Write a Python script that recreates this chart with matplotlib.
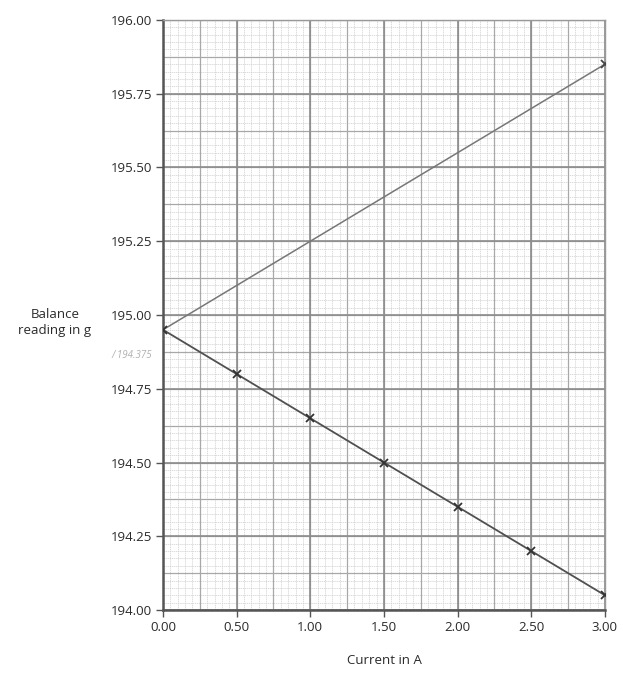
import numpy as np
import matplotlib.pyplot as plt
from matplotlib.ticker import MultipleLocator, FormatStrFormatter

# measured points (current in A, balance reading in g)
current = [0.00, 0.50, 1.00, 1.50, 2.00, 2.50, 3.00]
reading = [194.95, 194.80, 194.65, 194.50, 194.35, 194.20, 194.05]

# reflected line drawn by hand
upper_current = [0.00, 3.00]
upper_reading = [194.95, 195.85]

plt.rcParams['font.family'] = ['Open Sans', 'DejaVu Sans']

fig = plt.figure(figsize=(6.23, 6.73), dpi=100)
ax = fig.add_axes([0.2616, 0.0936, 0.971 - 0.2616, 0.9703 - 0.0936])

ax.set_xlim(0, 3.0)
ax.set_ylim(194.0, 196.0)

# graph paper grid
for xv in np.arange(0, 3.0001, 0.05):
    ax.axvline(xv, color='#cfcfcf', lw=0.5, ls=(0, (2, 1)), zorder=0)
for yv in np.arange(194.0, 196.0001, 0.025):
    ax.axhline(yv, color='#cfcfcf', lw=0.5, ls=(0, (2, 1)), zorder=0)
for xv in np.arange(0, 3.0001, 0.25):
    ax.axvline(xv, color='#a8a8a8', lw=0.9, zorder=0)
for yv in np.arange(194.0, 196.0001, 0.125):
    ax.axhline(yv, color='#a8a8a8', lw=0.9, zorder=0)
for xv in np.arange(0, 3.0001, 0.5):
    ax.axvline(xv, color='#8c8c8c', lw=1.2, zorder=0)
for yv in np.arange(194.0, 196.0001, 0.25):
    ax.axhline(yv, color='#8c8c8c', lw=1.2, zorder=0)

ax.plot(upper_current, upper_reading, color='#777777', lw=1.1, zorder=3)
ax.plot(upper_current[-1:], upper_reading[-1:], 'x', color='#444444', ms=6, mew=1.3, zorder=4)
ax.plot(current, reading, color='#505050', lw=1.3, zorder=3)
ax.plot(current, reading, 'x', color='#333333', ms=6, mew=1.3, zorder=4)

ax.xaxis.set_major_locator(MultipleLocator(0.5))
ax.yaxis.set_major_locator(MultipleLocator(0.25))
ax.xaxis.set_major_formatter(FormatStrFormatter('%.2f'))
ax.yaxis.set_major_formatter(FormatStrFormatter('%.2f'))
ax.tick_params(direction='out', length=5, width=1, color='#555555',
               labelsize=9.5, labelcolor='#2a2a2a', pad=3)

for side in ['left', 'bottom']:
    ax.spines[side].set_color('#555555')
    ax.spines[side].set_linewidth(1.8)
for side in ['top', 'right']:
    ax.spines[side].set_color('#999999')
    ax.spines[side].set_linewidth(1.0)

fig.text(55 / 623, 1 - 322 / 673, 'Balance\nreading in g', ha='center', va='center',
         fontsize=9.5, color='#2a2a2a', linespacing=1.3)
fig.text(384 / 623, 1 - 660 / 673, 'Current in A', ha='center', va='center',
         fontsize=9.5, color='#2a2a2a')

# faint pencil note next to the axis
fig.text(132 / 623, 1 - 355 / 673, '/ 194.375', ha='center', va='center',
         fontsize=7, color='#b0b0b0', style='italic')

fig.savefig('out.png', dpi=100)
